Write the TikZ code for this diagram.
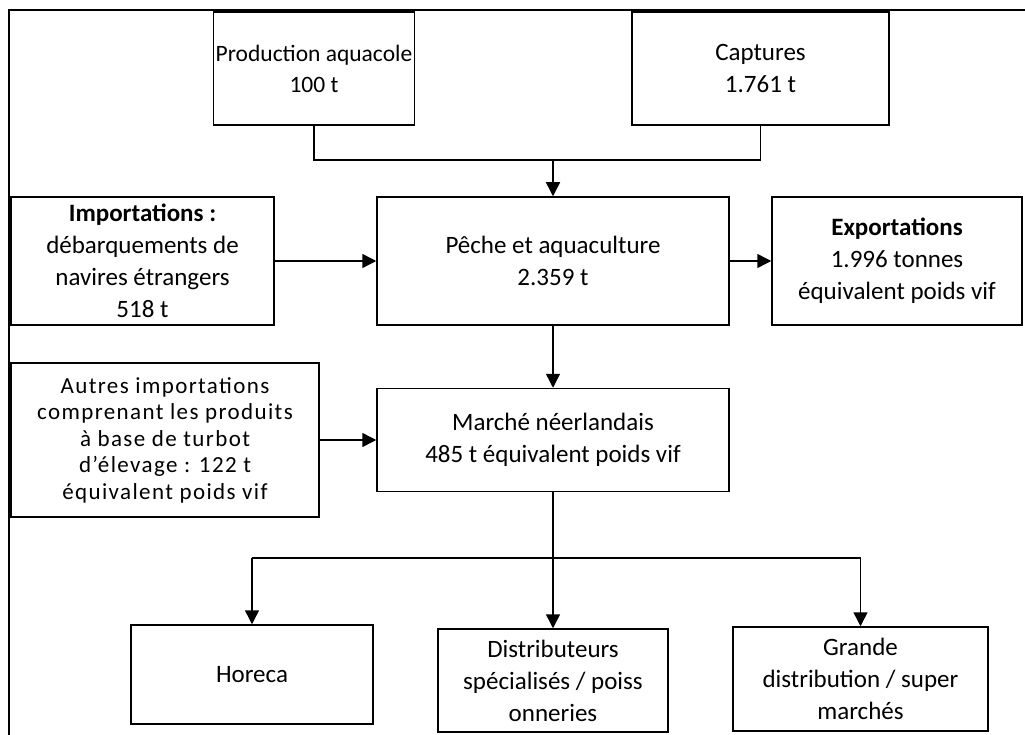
\documentclass[tikz,border=0pt]{standalone}
\usepackage{fontspec}
\setmainfont{Carlito}
\usetikzlibrary{arrows.meta}

\begin{document}
\begin{tikzpicture}[x=1pt, y=-1pt,
		>={Triangle[length=14pt, width=14pt]},
		flowbox/.style={draw, line width=1.5pt, inner sep=2pt, align=center, font=\fontsize{25}{32}\selectfont},
		smallbox/.style={flowbox, font=\fontsize{23}{26.5}\selectfont\addfontfeatures{LetterSpace=6}},
		narrowbox/.style={flowbox, font=\fontsize{23.5}{31}\selectfont},
		flowline/.style={line width=1.5pt}
	]

	\useasboundingbox (0,0) rectangle (1025,735);
	\draw[line width=2pt] (9,735) -- (9,10) -- (1025,10);

	\node[narrowbox, minimum width=198pt, minimum height=113pt] (prod) at (314,68.5) {Production aquacole\\100 t};
	\node[flowbox, minimum width=257pt, minimum height=113pt] (capt) at (760.5,68.5) {Captures\\1.761 t};

	\node[flowbox, minimum width=263pt, minimum height=128pt] (impo) at (142.5,261) {\textbf{Importations :}\\débarquements de\\navires étrangers\\518 t};
	\node[flowbox, minimum width=352pt, minimum height=128pt] (peche) at (553,261) {Pêche et aquaculture\\2.359 t};
	\node[flowbox, minimum width=250pt, minimum height=128pt] (expo) at (897,261) {\textbf{Exportations}\\1.996 tonnes\\équivalent poids vif};

	\node[smallbox, minimum width=308pt, minimum height=154pt] (autres) at (165,440) {Autres importations\\comprenant les produits\\à base de turbot\\d’élevage : 122 t\\équivalent poids vif};
	\node[flowbox, minimum width=352pt, minimum height=103pt] (marche) at (553,440) {Marché néerlandais\\485 t équivalent poids vif};

	\node[flowbox, minimum width=242pt, minimum height=99pt] (horeca) at (252,674.5) {Horeca};
	\node[flowbox, minimum width=230pt, minimum height=103pt] (distrib) at (553,680.5) {Distributeurs\\spécialisés / poiss\\onneries};
	\node[flowbox, minimum width=255pt, minimum height=104pt] (grande) at (860.5,679) {Grande\\distribution / super\\marchés};

	\coordinate (top) at (553,160);
	\coordinate (bar) at (553,558);

	\draw[flowline] (prod.south) |- (top) -| (capt.south);
	\draw[flowline, ->] (top) -- (peche.north);
	\draw[flowline, ->] (impo.east) -- (peche.west);
	\draw[flowline, ->] (peche.east) -- (expo.west);
	\draw[flowline, ->] (peche.south) -- (marche.north);
	\draw[flowline, ->] (autres.east) -- (marche.west);

	\draw[flowline] (marche.south) -- (bar);
	\draw[flowline] (horeca.north |- bar) -- (grande.north |- bar);
	\draw[flowline, ->] (horeca.north |- bar) -- (horeca.north);
	\draw[flowline, ->] (bar) -- (distrib.north);
	\draw[flowline, ->] (grande.north |- bar) -- (grande.north);
\end{tikzpicture}
\end{document}
